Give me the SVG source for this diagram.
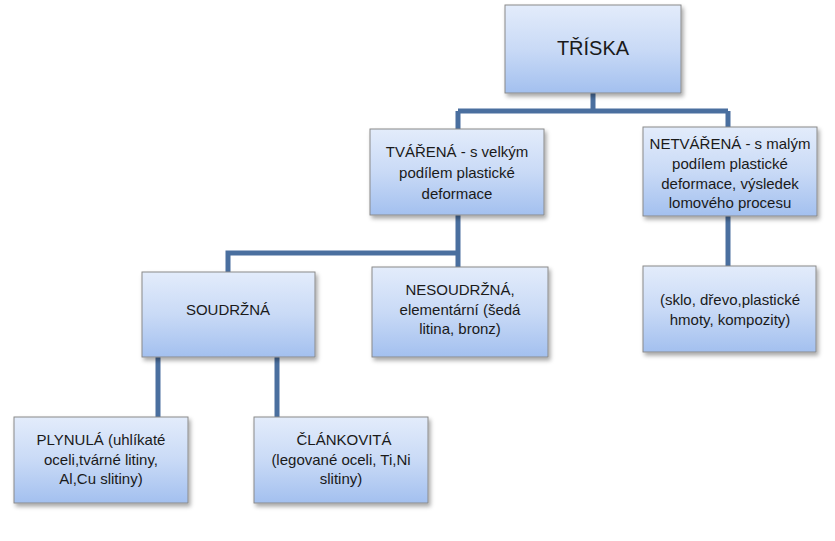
<svg xmlns="http://www.w3.org/2000/svg" width="835" height="541" viewBox="0 0 835 541">
<defs>
<linearGradient id="g" x1="0" y1="0" x2="0" y2="1">
<stop offset="0" stop-color="#e3ecfb"/>
<stop offset="0.5" stop-color="#c9daf6"/>
<stop offset="1" stop-color="#a3c0ef"/>
</linearGradient>
<filter id="sh" x="-10%" y="-10%" width="125%" height="130%">
<feDropShadow dx="2" dy="3" stdDeviation="2" flood-color="#000" flood-opacity="0.35"/>
</filter>
</defs>
<style>
.box{fill:url(#g);stroke:#8a8a8a;stroke-width:1;filter:url(#sh)}
.t{font-family:"Liberation Sans",Arial,sans-serif;font-size:15px;fill:#1a1a1a;text-anchor:middle}
.big{font-size:20px}
.c{fill:none;stroke:#4a6f9f;stroke-width:5}
</style>
<rect width="835" height="541" fill="#fff"/>
<g id="connectors">
<path class="c" d="M593 93V111M458 111H728M458 111V129M728 111V127"/>
<path class="c" d="M458 215V267M458 253H228V272"/>
<path class="c" d="M728 216V266"/>
<path class="c" d="M158 357V417M277 357V417"/>
</g>
<g id="triska"><rect class="box" x="505" y="5" width="176" height="88"/><text class="t big" x="593" y="55">TŘÍSKA</text></g>
<g id="tvarena"><rect class="box" x="370" y="129" width="174" height="86"/><text class="t" x="457" y="157">TVÁŘENÁ - s velkým</text><text class="t" x="457" y="178">podílem plastické</text><text class="t" x="457" y="199">deformace</text></g>
<g id="netvarena"><rect class="box" x="643" y="127" width="174" height="89"/><text class="t" x="730" y="149">NETVÁŘENÁ - s malým</text><text class="t" x="730" y="169">podílem plastické</text><text class="t" x="730" y="189">deformace, výsledek</text><text class="t" x="730" y="208">lomového procesu</text></g>
<g id="soudrzna"><rect class="box" x="142" y="272" width="173" height="85"/><text class="t" x="228" y="315">SOUDRŽNÁ</text></g>
<g id="nesoudrzna"><rect class="box" x="372" y="267" width="176" height="90"/><text class="t" x="460" y="295">NESOUDRŽNÁ,</text><text class="t" x="460" y="315">elementární (šedá</text><text class="t" x="460" y="334">litina, bronz)</text></g>
<g id="sklo"><rect class="box" x="643" y="266" width="173" height="86"/><text class="t" x="730" y="305">(sklo, dřevo,plastické</text><text class="t" x="730" y="325">hmoty, kompozity)</text></g>
<g id="plynula"><rect class="box" x="14" y="417" width="174" height="86"/><text class="t" x="101" y="445">PLYNULÁ (uhlíkaté</text><text class="t" x="101" y="465">oceli,tvárné litiny,</text><text class="t" x="101" y="484">Al,Cu slitiny)</text></g>
<g id="clankovita"><rect class="box" x="254" y="417" width="174" height="86"/><text class="t" x="344" y="445">ČLÁNKOVITÁ</text><text class="t" x="341" y="465">(legované oceli, Ti,Ni</text><text class="t" x="341" y="484">slitiny)</text></g>
</svg>
